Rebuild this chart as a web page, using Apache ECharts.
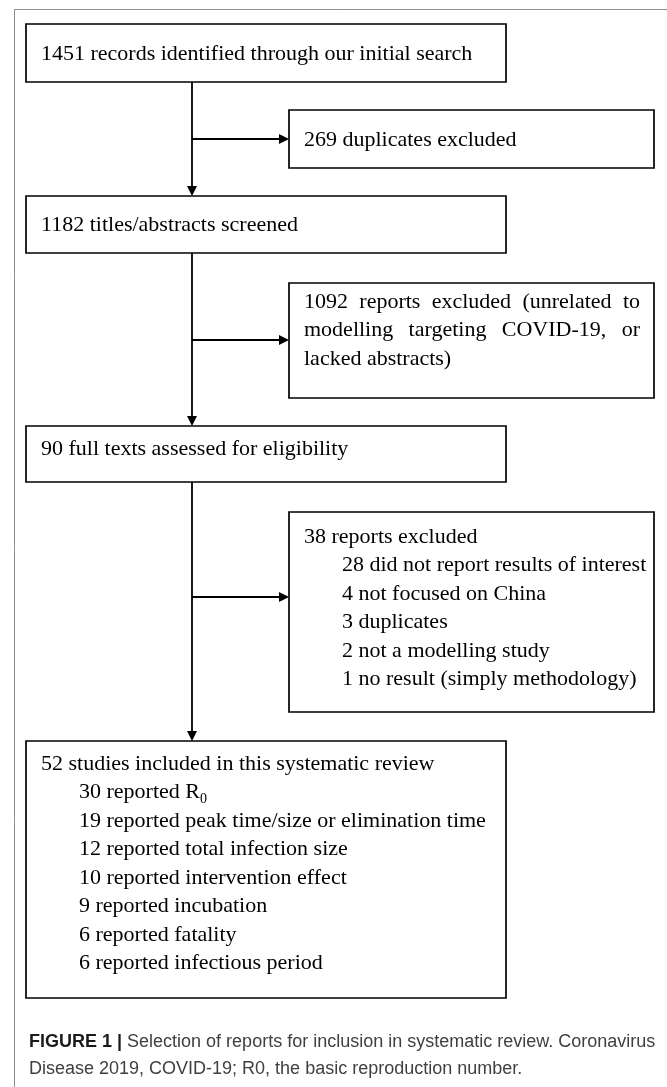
<!DOCTYPE html>
<html>
<head>
<meta charset="utf-8">
<title>Selection of reports - flow diagram</title>
<style>
  html, body { margin: 0; padding: 0; background: #fff; }
  #main { width: 667px; height: 1087px; }
</style>
<script src="https://cdn.jsdelivr.net/npm/echarts@6/dist/echarts.min.js"></script>
</head>
<body>
<div id="main"></div>
<script>
// ---- content ----
const mainSteps = [
  '1451 records identified through our initial search',
  '1182 titles/abstracts screened',
  '90 full texts assessed for eligibility',
  '52 studies included in this systematic review'
]
const includedDetails = [
  '30 reported R₀',
  '19 reported peak time/size or elimination time',
  '12 reported total infection size',
  '10 reported intervention effect',
  '9 reported incubation',
  '6 reported fatality',
  '6 reported infectious period'
]
// one entry per exclusion box, split as the lines are in the figure
const exclusionTitles = [
  ['269 duplicates excluded'],
  ['1092 reports excluded (unrelated to', 'modelling targeting COVID-19, or', 'lacked abstracts)'],
  ['38 reports excluded']
]
const exclusionReasons = [
  '28 did not report results of interest',
  '4 not focused on China',
  '3 duplicates',
  '2 not a modelling study',
  '1 no result (simply methodology)'
]
const captionLead = 'FIGURE 1 |'
const captionLines = [
  'Selection of reports for inclusion in systematic review. Coronavirus',
  'Disease 2019, COVID-19; R0, the basic reproduction number.'
]

// ---- layout (px in the 667 x 1087 frame) ----
const W = 667
const H = 1087
const MAIN_X = 26
const MAIN_W = 480
const SIDE_X = 289
const SIDE_W = 365
const TRUNK_X = 192
const LINE_H = 28.5
const PAD = 15
const INDENT = 38
// [top, height, centre of first text line]
const mainLayout = [[24, 58, 54], [196, 57, 225], [426, 56, 449], [741, 257, 764]]
const sideLayout = [[110, 58, 140], [283, 115, 302], [512, 200, 537]]
const branchY = [139, 340, 597]

const SERIF = '"Liberation Serif", "Times New Roman", serif'
const FONT = '22px ' + SERIF
const measure = document.createElement('canvas').getContext('2d')
measure.font = FONT

// build the boxes
const boxes = []
mainSteps.forEach((t, i) => {
  const [top, h, ty] = mainLayout[i]
  const lines = [{ text: t }]
  if (i === mainSteps.length - 1) {
    includedDetails.forEach(d => lines.push({ text: d, indent: true }))
  }
  boxes.push({ x: MAIN_X, y: top, w: MAIN_W, h, ty, lines })
})
exclusionTitles.forEach((rows, i) => {
  const [top, h, ty] = sideLayout[i]
  const lines = rows.map((r, k) => ({ text: r, justify: k < rows.length - 1 }))
  if (i === exclusionTitles.length - 1) {
    exclusionReasons.forEach(d => lines.push({ text: d, indent: true }))
  }
  boxes.push({ x: SIDE_X, y: top, w: SIDE_W, h, ty, lines })
})

// connectors: trunk pieces and side branches
const links = []
for (let i = 0; i < mainLayout.length - 1; i++) {
  links.push([TRUNK_X, mainLayout[i][0] + mainLayout[i][1], TRUNK_X, mainLayout[i + 1][0]])
  links.push([TRUNK_X, branchY[i], SIDE_X, branchY[i]])
}

function textEl(text, x, y) {
  const style = { x, y, font: FONT, fill: '#000', align: 'left', verticalAlign: 'middle' }
  if (text.indexOf('₀') >= 0) {
    style.text = '{n|' + text.replace('₀', '}{s|0}')
    style.rich = {
      n: { fontFamily: SERIF, fontSize: 22, lineHeight: 28, verticalAlign: 'middle' },
      s: { fontFamily: SERIF, fontSize: 14, lineHeight: 18, verticalAlign: 'bottom' }
    }
  } else {
    style.text = text
  }
  return { type: 'text', style }
}

function renderBox(params, api) {
  const b = boxes[api.value(4)]
  const p0 = api.coord([api.value(0), api.value(1)])
  const p1 = api.coord([api.value(2), api.value(3)])
  const children = [{
    type: 'rect',
    shape: { x: p0[0], y: p0[1], width: p1[0] - p0[0], height: p1[1] - p0[1] },
    style: { fill: '#fff', stroke: '#000', lineWidth: 1.7 }
  }]
  b.lines.forEach((ln, k) => {
    const cy = api.coord([0, b.ty + k * LINE_H])[1]
    const left = api.coord([b.x + PAD + (ln.indent ? INDENT : 0), 0])[0]
    if (ln.justify) {
      // spread words across the box like the justified original
      const right = api.coord([b.x + b.w - PAD + 1, 0])[0]
      const words = ln.text.split(' ')
      const widths = words.map(w => measure.measureText(w).width)
      const gap = (right - left - widths.reduce((a, c) => a + c, 0)) / (words.length - 1)
      let x = left
      words.forEach((w, j) => {
        children.push(textEl(w, x, cy))
        x += widths[j] + gap
      })
    } else {
      children.push(textEl(ln.text, left, cy))
    }
  })
  return { type: 'group', children }
}

function renderLink(params, api) {
  const a = api.coord([api.value(0), api.value(1)])
  const b = api.coord([api.value(2), api.value(3)])
  const dx = b[0] - a[0]
  const dy = b[1] - a[1]
  const len = Math.hypot(dx, dy)
  const ux = dx / len
  const uy = dy / len
  const L = 10
  const HW = 5
  const base = [b[0] - ux * L, b[1] - uy * L]
  return {
    type: 'group',
    children: [
      {
        type: 'line',
        shape: { x1: a[0], y1: a[1], x2: base[0] + ux, y2: base[1] + uy },
        style: { stroke: '#000', lineWidth: 1.8 }
      },
      {
        type: 'polygon',
        shape: { points: [b, [base[0] - uy * HW, base[1] + ux * HW], [base[0] + uy * HW, base[1] - ux * HW]] },
        style: { fill: '#000' }
      }
    ]
  }
}

// outer figure frame (left and top edges only)
const frame = [[14.5, H, 14.5, 9.5, W, 9.5]]
function renderFrame(params, api) {
  const pts = [0, 2, 4].map(k => api.coord([api.value(k), api.value(k + 1)]))
  return { type: 'polyline', shape: { points: pts }, style: { stroke: '#8f8f8f', lineWidth: 1, fill: null } }
}

const SANS = '"Liberation Sans", Arial, sans-serif'

const chart = echarts.init(document.getElementById('main'))
chart.setOption({
  backgroundColor: '#fff',
  animation: false,
  title: {
    left: 29,
    top: 1029,
    padding: 0,
    text: '{b|' + captionLead + '}{t| ' + captionLines[0] + '}\n{t|' + captionLines[1] + '}',
    textStyle: {
      fontWeight: 'normal',
      rich: {
        b: { fontFamily: SANS, fontSize: 18, fontWeight: 'bold', color: '#1a1a1a', lineHeight: 27 },
        t: { fontFamily: SANS, fontSize: 18, fontWeight: 'normal', color: '#404040', lineHeight: 27 }
      }
    }
  },
  grid: { left: 0, right: 0, top: 0, bottom: 0 },
  xAxis: { type: 'value', min: 0, max: W, show: false },
  yAxis: { type: 'value', min: 0, max: H, inverse: true, show: false },
  series: [
    {
      type: 'custom',
      clip: false,
      silent: true,
      renderItem: renderFrame,
      data: frame
    },
    {
      type: 'custom',
      clip: false,
      silent: true,
      renderItem: renderLink,
      data: links
    },
    {
      type: 'custom',
      clip: false,
      silent: true,
      renderItem: renderBox,
      data: boxes.map((b, i) => [b.x, b.y, b.x + b.w, b.y + b.h, i])
    }
  ]
})
</script>
</body>
</html>
